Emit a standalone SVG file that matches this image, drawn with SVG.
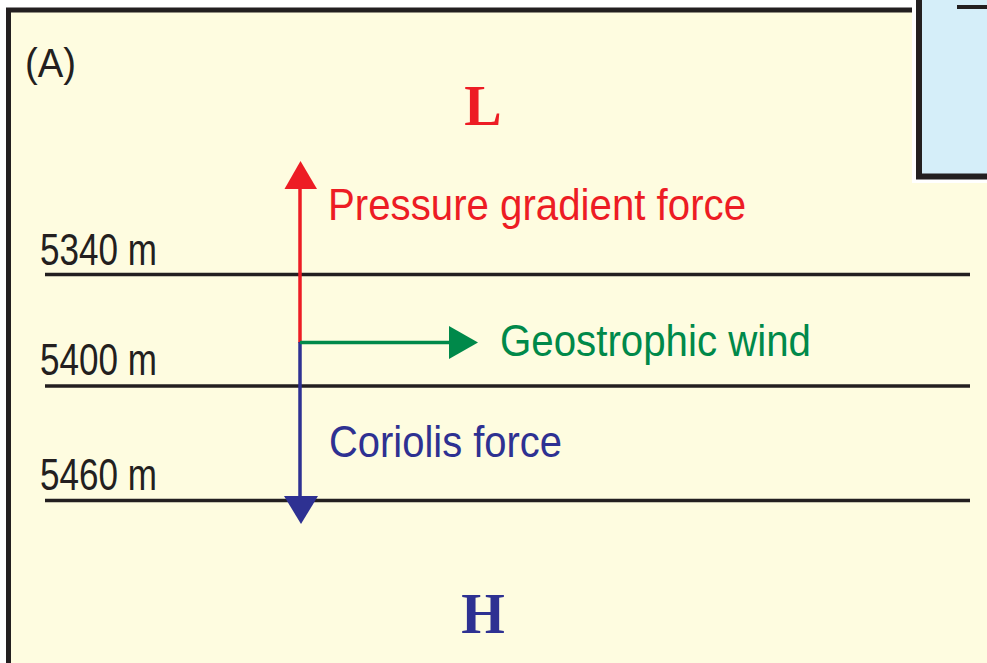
<svg xmlns="http://www.w3.org/2000/svg" width="987" height="663" viewBox="0 0 987 663">
<defs>
<style>
.lbl{font-family:"Liberation Sans Narrow","Liberation Sans",Arial,sans-serif;font-size:45px}
.big{font-family:"Liberation Serif","Times New Roman",serif;font-weight:bold;font-size:56px;text-anchor:middle}
.iso{stroke:#231F20;stroke-width:3.5;fill:none}
</style>
</defs>
<rect x="0" y="0" width="987" height="663" fill="#FFFFFF"/>
<g id="panel-a">
<rect x="8.5" y="10" width="990" height="670" fill="#FEFCE0" stroke="#231F20" stroke-width="5"/>
</g>
<g id="panel-b">
<rect x="912" y="-10" width="90" height="193" fill="#FFFFFF"/>
<rect x="919" y="-10" width="80" height="186.5" fill="#D5EEF9" stroke="#231F20" stroke-width="6"/>
<rect x="957" y="5" width="30" height="4" fill="#231F20"/>
</g>
<g id="label-a"><text x="25" y="77" font-family="Liberation Sans,Arial,sans-serif" font-size="40" fill="#231F20" textLength="51" lengthAdjust="spacingAndGlyphs">(A)</text></g>
<g id="isobars">
<line class="iso" x1="45" y1="274.5" x2="970" y2="274.5"/>
<line class="iso" x1="45" y1="386" x2="970" y2="386"/>
<line class="iso" x1="45" y1="500.5" x2="970" y2="500.5"/>
<text class="lbl" x="40" y="265" fill="#231F20" textLength="117" lengthAdjust="spacingAndGlyphs">5340 m</text>
<text class="lbl" x="40" y="375" fill="#231F20" textLength="117" lengthAdjust="spacingAndGlyphs">5400 m</text>
<text class="lbl" x="40" y="490" fill="#231F20" textLength="117" lengthAdjust="spacingAndGlyphs">5460 m</text>
</g>
<g id="L"><text class="big" x="483" y="125" fill="#ED1C24">L</text></g>
<g id="H"><text class="big" x="483" y="633" fill="#2E3192">H</text></g>
<g id="connectors">
<line x1="300" y1="343" x2="300" y2="186" stroke="#ED1C24" stroke-width="3.5"/>
<polygon points="284.5,189 317,189 300.5,161" fill="#ED1C24"/>
<line x1="300" y1="342" x2="300" y2="498" stroke="#2E3192" stroke-width="3.5"/>
<polygon points="284,496 318,496 301,524" fill="#2E3192"/>
<line x1="300" y1="342.5" x2="452" y2="342.5" stroke="#00894A" stroke-width="3.5"/>
<polygon points="449,326 449,359 478,342.5" fill="#00894A"/>
</g>
<g id="pgf-label"><text class="lbl" x="328" y="220" fill="#ED1C24" textLength="418" lengthAdjust="spacingAndGlyphs">Pressure gradient force</text></g>
<g id="wind-label"><text class="lbl" x="500" y="356" fill="#00894A" textLength="311" lengthAdjust="spacingAndGlyphs">Geostrophic wind</text></g>
<g id="coriolis-label"><text class="lbl" x="329" y="457" fill="#2E3192" textLength="233" lengthAdjust="spacingAndGlyphs">Coriolis force</text></g>
</svg>
